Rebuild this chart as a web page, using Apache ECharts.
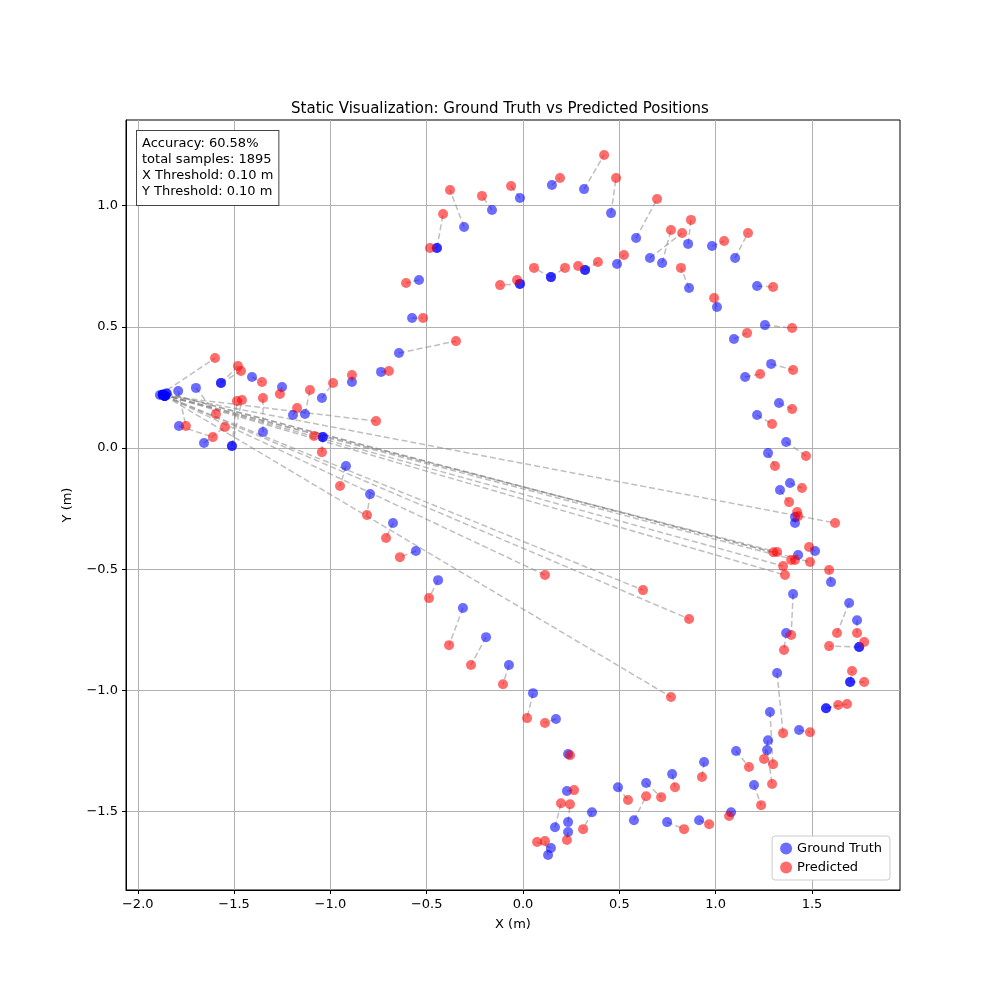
<!DOCTYPE html>
<html>
<head>
<meta charset="utf-8">
<script src="https://cdn.jsdelivr.net/npm/echarts@6/dist/echarts.min.js"></script>
<style>html,body{margin:0;background:#fff}#chart{width:1000px;height:1000px}</style>
</head>
<body>
<div id="chart"></div>
<script>
// ground truth -> predicted pairs, one entry per sample
const gtX = [0.15,0.317,0.457,-0.016,-0.161,-0.306,-0.447,-0.447,-0.54,-0.576,-0.644,-0.737,-0.888,-1.044,-1.039,-0.919,-0.794,-0.675,-0.556,-0.441,-0.312,-0.192,-0.073,0.052,0.171,0.234,0.228,0.234,0.234,0.166,0.145,0.13,0.358,0.493,0.576,0.639,0.748,0.774,0.914,0.94,1.08,1.106,1.199,1.267,1.272,1.282,1.319,1.366,1.402,1.428,1.412,1.412,1.334,1.386,1.366,1.272,1.329,1.288,1.256,1.215,1.153,1.095,1.101,0.981,1.215,0.857,0.862,0.722,0.659,0.587,0.488,0.322,0.145,-0.016,-0.016,0.145,0.322,1.007,1.516,1.599,1.693,1.734,1.745,1.698,1.573,1.433,1.745,1.698,1.573,
  -1.885,-1.79,-1.698,-1.786,-1.656,-1.511,-1.568,-1.568,-1.407,-1.251,-1.35,-1.194,-1.132,-1.039,-1.511,
  -1.87,-1.87,-1.87,-1.87,-1.87,-1.86,-1.86,-1.86,-1.86,-1.86,-1.85,-1.85];
const gtY = [1.085,1.068,0.969,1.031,0.982,0.912,0.825,0.825,0.693,0.536,0.392,0.314,0.272,0.206,0.045,-0.074,-0.19,-0.309,-0.425,-0.545,-0.66,-0.78,-0.895,-1.011,-1.118,-1.262,-1.415,-1.543,-1.584,-1.564,-1.65,-1.679,-1.502,-1.399,-1.535,-1.382,-1.543,-1.345,-1.535,-1.295,-1.502,-1.25,-1.39,-1.246,-1.205,-1.089,-0.928,-0.763,-0.602,-0.441,-0.309,-0.285,-0.173,-0.144,0.025,-0.021,0.186,0.347,0.507,0.136,0.293,0.45,0.784,0.833,0.668,0.842,0.66,0.763,0.784,0.866,0.759,0.734,0.705,0.677,0.677,0.705,0.734,0.582,-0.425,-0.553,-0.639,-0.71,-0.821,-0.965,-1.073,-1.163,-0.821,-0.965,-1.073,
  0.219,0.235,0.248,0.091,0.021,0.008,0.268,0.268,0.293,0.252,0.066,0.136,0.14,0.045,0.008,
  0.22,0.22,0.22,0.22,0.22,0.215,0.215,0.215,0.215,0.215,0.225,0.225];
const predX = [0.192,0.421,0.483,-0.062,-0.213,-0.379,-0.415,-0.483,-0.607,-0.519,-0.348,-0.696,-0.888,-0.986,-1.044,-0.95,-0.81,-0.711,-0.639,-0.488,-0.384,-0.27,-0.104,0.021,0.114,0.244,0.265,0.244,0.228,0.197,0.073,0.114,0.312,0.545,0.639,0.717,0.836,0.789,0.966,0.929,1.07,1.173,1.236,1.293,1.251,1.298,1.35,1.355,1.392,1.392,1.423,1.428,1.381,1.448,1.469,1.308,1.397,1.402,1.397,1.293,1.231,1.163,1.168,1.044,1.298,0.872,0.82,0.768,0.826,0.696,0.524,0.389,0.218,-0.031,-0.119,0.057,0.286,0.992,1.485,1.589,1.63,1.734,1.771,1.708,1.682,1.49,1.589,1.771,1.636,
  -1.599,-1.75,-1.594,-1.61,-1.547,-1.485,-1.48,-1.464,-1.355,-1.262,-1.35,-1.173,-1.106,-1.085,-1.459,
  1.62,1.319,1.412,1.35,1.36,0.114,0.623,0.862,0.768,-0.763,1.49,1.30];
const predY = [1.114,1.209,1.114,1.081,1.04,1.064,0.965,0.825,0.681,0.536,0.441,0.318,0.301,0.268,-0.017,-0.157,-0.276,-0.371,-0.45,-0.619,-0.813,-0.895,-0.974,-1.114,-1.134,-1.267,-1.411,-1.469,-1.617,-1.465,-1.625,-1.621,-1.572,-1.452,-1.436,-1.44,-1.572,-1.399,-1.552,-1.357,-1.518,-1.316,-1.473,-1.386,-1.283,-1.304,-1.176,-0.833,-0.771,-0.462,-0.264,-0.281,-0.223,-0.165,-0.033,-0.074,0.161,0.322,0.495,0.099,0.305,0.474,0.887,0.854,0.664,0.941,0.743,0.899,0.887,1.027,0.796,0.767,0.743,0.693,0.672,0.743,0.751,0.619,-0.408,-0.503,-0.763,-0.763,-0.8,-0.92,-1.056,-1.172,-0.817,-0.965,-1.06,
  0.371,0.091,0.14,0.045,0.087,0.194,0.338,0.318,0.272,0.223,0.206,0.165,0.239,0.05,0.198,
  -0.309,-0.429,-0.462,-0.487,-0.524,-0.524,-0.586,-0.705,-1.027,0.111,-0.47,-0.43];
const xTicks = [-2.0,-1.5,-1.0,-0.5,0.0,0.5,1.0,1.5];
const yTicks = [-1.5,-1.0,-0.5,0.0,0.5,1.0];
const infoLines = ['Accuracy: 60.58%','total samples: 1895','X Threshold: 0.10 m','Y Threshold: 0.10 m'];

const fmt = v => (v < 0 ? '\u2212' : '') + Math.abs(v).toFixed(1);
const font = 'DejaVu Sans';
const chart = echarts.init(document.getElementById('chart'));

const pairs = gtX.map((x, i) => ({ coords: [[x, gtY[i]], [predX[i], predY[i]]] }));
const axisCommon = {
  type: 'value',
  nameLocation: 'middle',
  nameTextStyle: { color: '#000', fontSize: 13, fontFamily: font },
  axisLine: { onZero: false, lineStyle: { color: '#000' } },
  axisTick: { show: true, length: 4, lineStyle: { color: '#000' } },
  axisLabel: { color: '#000', fontSize: 13, fontFamily: font, formatter: fmt },
  splitLine: { show: true, lineStyle: { color: '#b0b0b0', width: 1 } }
};

chart.setOption({
  animation: false,
  title: {
    text: 'Static Visualization: Ground Truth vs Predicted Positions',
    left: 'center', top: 97,
    textStyle: { fontSize: 15, fontWeight: 'normal', color: '#000', fontFamily: font }
  },
  grid: { left: 126, right: 100, top: 120, bottom: 110, show: true, borderColor: '#000', borderWidth: 1 },
  xAxis: Object.assign({}, axisCommon, {
    min: -2.061, max: 1.957, name: 'X (m)', nameGap: 28,
    axisLabel: Object.assign({}, axisCommon.axisLabel, { customValues: xTicks }),
    axisTick: Object.assign({}, axisCommon.axisTick, { customValues: xTicks })
  }),
  yAxis: Object.assign({}, axisCommon, {
    min: -1.823, max: 1.353, name: 'Y (m)', nameGap: 52,
    axisLabel: Object.assign({}, axisCommon.axisLabel, { customValues: yTicks }),
    axisTick: Object.assign({}, axisCommon.axisTick, { customValues: yTicks })
  }),
  legend: {
    right: 110, bottom: 120, orient: 'vertical',
    backgroundColor: '#fff', borderColor: '#ccc', borderWidth: 1, borderRadius: 3,
    padding: [6, 8], itemGap: 6, itemWidth: 12, itemHeight: 12,
    textStyle: { fontSize: 13, color: '#000', fontFamily: font },
    data: [{ name: 'Ground Truth', icon: 'circle' }, { name: 'Predicted', icon: 'circle' }]
  },
  graphic: [{
    type: 'text', left: 136, top: 130, z: 100,
    style: {
      text: infoLines.join('\n'), fontSize: 13, fontFamily: font, fill: '#000', lineHeight: 16,
      backgroundColor: '#fff', borderColor: '#444', borderWidth: 1, padding: [5, 5]
    }
  }],
  series: [
    {
      type: 'lines', coordinateSystem: 'cartesian2d', silent: true, z: 1,
      lineStyle: { color: 'rgba(128,128,128,0.5)', width: 1.5, type: [6, 3], opacity: 1 },
      data: pairs
    },
    {
      name: 'Ground Truth', type: 'scatter', symbolSize: 10, z: 2,
      itemStyle: { color: 'rgba(0,0,255,0.72)' },
      data: gtX.map((x, i) => [x, gtY[i]])
    },
    {
      name: 'Predicted', type: 'scatter', symbolSize: 10, z: 3,
      itemStyle: { color: 'rgba(255,0,0,0.72)' },
      data: predX.map((x, i) => [x, predY[i]])
    }
  ]
});
</script>
</body>
</html>
